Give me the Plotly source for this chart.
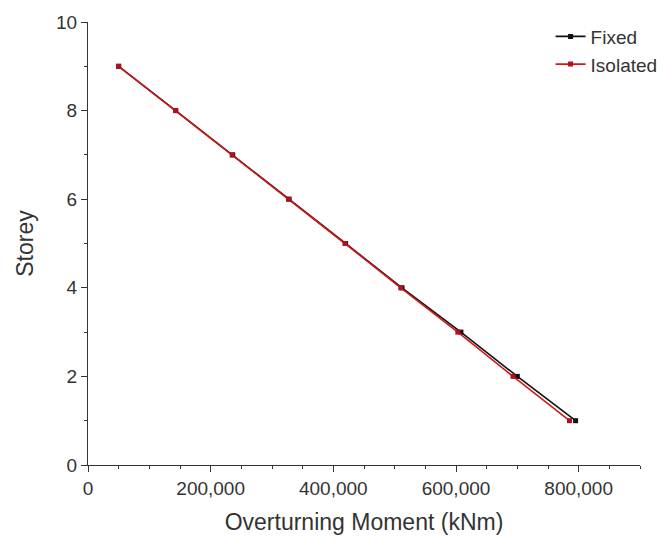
import plotly.graph_objects as go

storey = [1, 2, 3, 4, 5, 6, 7, 8, 9]
fixed = [795000, 700000, 608000, 512000, 420000, 328000, 236000, 143000, 50000]
isolated = [785000, 693000, 603000, 510000, 419000, 327000, 235000, 143000, 50000]

fig = go.Figure()
fig.add_trace(go.Scatter(x=fixed, y=storey, mode="lines+markers", name="Fixed",
                         line=dict(color="#111111", width=1.6),
                         marker=dict(color="#111111", size=5, symbol="square")))
fig.add_trace(go.Scatter(x=isolated, y=storey, mode="lines+markers", name="Isolated",
                         line=dict(color="#d01818", width=1.6),
                         marker=dict(color="#b01020", size=5, symbol="square")))

txt = "#333333"
axis_common = dict(showline=True, linecolor="#333333", linewidth=1.2, ticks="outside",
                   ticklen=6, tickcolor="#333333", showgrid=False, zeroline=False,
                   mirror=False)
fig.update_xaxes(range=[0, 900000], dtick=200000, tickformat=",d",
                 minor=dict(dtick=50000, ticks="outside", ticklen=3, tickcolor="#333333"),
                 title=dict(text="Overturning Moment (kNm)", font=dict(size=23, color=txt), standoff=15),
                 tickfont=dict(size=19, color=txt), **axis_common)
fig.update_yaxes(range=[0, 10], dtick=2,
                 minor=dict(dtick=1, ticks="outside", ticklen=3, tickcolor="#333333"),
                 title=dict(text="Storey", font=dict(size=23, color=txt), standoff=15),
                 tickfont=dict(size=19, color=txt), **axis_common)

fig.update_layout(width=665, height=543, margin=dict(l=88, r=25, t=22, b=78, autoexpand=False),
                  plot_bgcolor="white", paper_bgcolor="white",
                  font=dict(family="Liberation Sans, Arial, sans-serif", color=txt),
                  legend=dict(x=0.838, y=1.01, xanchor="left", yanchor="top",
                              bgcolor="rgba(0,0,0,0)", font=dict(size=19, color=txt),
                              itemwidth=30, tracegroupgap=0))
fig.write_html("out.html")
